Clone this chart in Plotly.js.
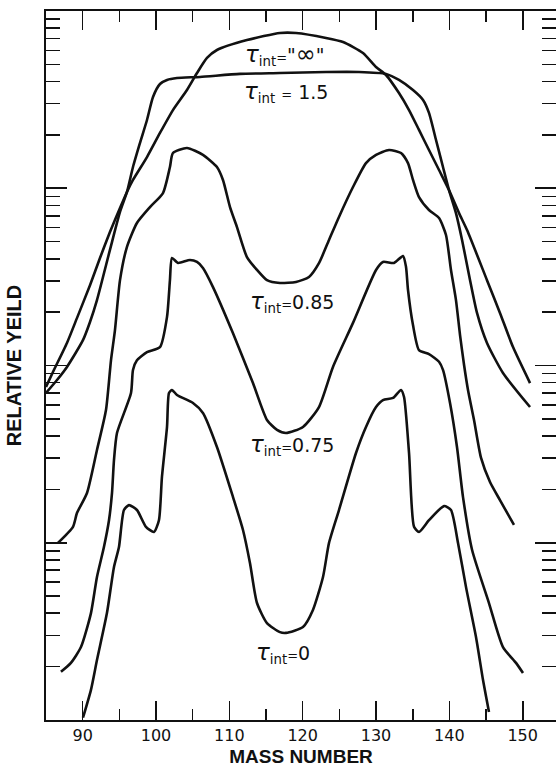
<!DOCTYPE html>
<html><head><meta charset="utf-8">
<script src="https://cdn.plot.ly/plotly-3.0.1.min.js"></script>
<style>html,body{margin:0;padding:0;background:#fff}</style>
</head><body>
<div id="chart" style="width:556px;height:767px"></div>
<script>
// tau_int = "infinity"
const massInf  = [85.0, 85.95, 87.86, 89.22, 91.0, 92.36, 93.72, 95.09, 96.04, 96.86, 98.77, 100.54, 102.31, 104.22, 105.59, 106.95, 108.31, 112.4, 116.9, 119.09, 123.18, 125.5, 128.22, 130.0, 131.36, 133.13, 134.5, 135.86, 137.22, 138.59, 139.95, 141.32, 142.41, 145.13, 146.9, 148.68, 151.0];
const yieldInf = [75.7, 91.9, 134, 185, 284, 404, 566, 774, 953, 1114, 1500, 2051, 2761, 3581, 4467, 5433, 6026, 6855, 7516, 7516, 7047, 6683, 5794, 4831, 4355, 3443, 2761, 2133, 1644, 1268, 977, 724, 581, 303, 198, 127, 79.6];
// tau_int = 1.5
const mass15  = [85.0, 86.5, 87.86, 90.04, 91.0, 91.95, 93.72, 95.09, 96.04, 96.86, 97.81, 98.77, 99.59, 100.54, 101.5, 102.86, 106.0, 111.45, 116.9, 123.18, 127.68, 131.36, 133.13, 135.04, 136.41, 137.22, 138.18, 139.13, 139.95, 140.9, 141.73, 142.82, 143.77, 145.13, 147.31, 151.0];
const yield15 = [70.0, 82.8, 98.2, 139, 176, 234, 449, 735, 953, 1318, 1799, 2427, 3273, 3873, 4083, 4188, 4246, 4416, 4467, 4529, 4529, 4416, 4083, 3581, 3148, 2661, 1871, 1318, 977, 724, 511, 303, 198, 134, 90.8, 58.3];
// tau_int = 0.85
const mass085  = [86.63, 88.68, 89.22, 90.59, 91.95, 93.18, 93.86, 94.4, 95.09, 96.04, 97.4, 99.18, 100.95, 101.9, 102.31, 104.22, 106.4, 108.31, 109.13, 110.09, 111.04, 112.4, 113.77, 115.13, 116.9, 119.09, 120.86, 122.22, 123.59, 124.95, 126.86, 128.63, 130.0, 131.77, 133.41, 134.36, 135.04, 135.86, 137.22, 138.59, 139.54, 140.22, 140.9, 141.45, 142.0, 142.54, 143.36, 144.32, 145.54, 146.9, 148.81];
const yield085 = [9.98, 12.3, 14.7, 19.1, 33.4, 56.1, 107, 158, 303, 467, 637, 783, 940, 1318, 1581, 1687, 1542, 1318, 1114, 783, 604, 409, 346, 303, 292, 296, 316, 378, 511, 689, 1016, 1387, 1542, 1644, 1581, 1387, 1114, 891, 754, 679, 545, 346, 234, 149, 101, 72.8, 49.3, 30.1, 22.0, 17.4, 12.6];
// tau_int = 0.75
const mass075  = [87.04, 88.4, 89.77, 91.13, 91.95, 92.9, 93.59, 94.0, 94.27, 94.68, 96.59, 96.86, 97.4, 98.77, 100.54, 101.5, 101.9, 102.18, 103.0, 104.63, 105.59, 106.4, 107.77, 110.5, 113.22, 115.13, 116.5, 117.72, 120.04, 122.22, 124.13, 126.86, 130.0, 130.95, 132.45, 133.68, 134.09, 134.36, 135.04, 135.86, 137.22, 138.59, 139.13, 140.09, 141.04, 141.86, 143.1, 145.4, 147.31, 149.09, 150.04];
const yield075 = [1.87, 2.10, 2.58, 4.01, 6.41, 9.46, 13.4, 19.1, 29.3, 41.6, 70.0, 94.4, 107, 119, 127, 188, 303, 404, 379, 394, 384, 355, 277, 152, 79.6, 49.3, 43.3, 41.6, 45.0, 58.3, 98.2, 174, 346, 384, 379, 415, 360, 267, 169, 122, 116, 105, 94.4, 61.4, 34.7, 18.1, 9.1, 4.57, 2.58, 2.10, 1.84];
// tau_int = 0
const mass0  = [90.04, 91.13, 91.95, 93.31, 94.27, 94.95, 95.63, 96.31, 97.4, 98.63, 99.72, 100.4, 100.81, 101.5, 101.77, 102.18, 102.86, 105.04, 106.4, 108.31, 110.5, 111.86, 112.81, 113.77, 115.13, 116.9, 117.72, 120.04, 121.4, 122.77, 123.59, 124.95, 127.27, 128.63, 130.0, 130.95, 132.32, 133.41, 133.82, 134.5, 135.18, 135.86, 137.22, 139.27, 140.22, 141.18, 142.27, 143.63, 144.59, 145.4];
const yield0 = [1.03, 1.48, 2.18, 4.01, 7.30, 9.46, 15.3, 16.3, 15.3, 12.3, 11.5, 13.4, 23.5, 45.0, 70.0, 72.8, 68.2, 61.4, 54.0, 34.7, 18.1, 11.8, 7.69, 4.57, 3.52, 3.13, 3.10, 3.35, 4.18, 6.41, 9.98, 15.3, 32.1, 45.0, 58.3, 63.8, 65.6, 72.8, 66.4, 32.1, 12.3, 11.5, 13.4, 16.1, 15.3, 9.98, 5.62, 2.94, 1.68, 1.11];

const seriesMass  = [massInf, mass15, mass085, mass075, mass0];
const seriesYield = [yieldInf, yield15, yield085, yield075, yield0];
const tauPart = '<span style="font-size:23px"><i>τ</i></span><sub>int</sub>';
const eqPart = '<span style="font-size:13px">=</span>';
const seriesLabels = [
  tauPart + eqPart + '"<span style="font-size:24px">∞</span>"',
  tauPart + ' ' + eqPart + ' 1.5',
  tauPart + eqPart + '0.85',
  tauPart + eqPart + '0.75',
  tauPart + eqPart + '0'
];
const labelMass = [117.6, 117.7, 118.5, 118.5, 117.3];
const labelLogY = [3.752, 3.543, 2.358, 1.551, 0.378];

const ink = '#111';
const traces = seriesMass.map((m, i) => ({
  x: m, y: seriesYield[i], type: 'scatter', mode: 'lines',
  line: {color: ink, width: 2.6, shape: 'spline', smoothing: 0.6},
  hoverinfo: 'skip'
}));

const annotations = seriesLabels.map((t, i) => ({
  text: t, x: labelMass[i], y: labelLogY[i], xref: 'x', yref: 'y',
  showarrow: false, xanchor: 'center', yanchor: 'middle',
  font: {family: 'DejaVu Sans', size: 19, color: ink}
}));

const layout = {
  width: 556, height: 767,
  margin: {l: 46, r: 0, t: 11, b: 47},
  showlegend: false,
  paper_bgcolor: '#fff', plot_bgcolor: '#fff',
  xaxis: {
    range: [85.0, 154.54], showgrid: false, zeroline: false,
    showline: true, linecolor: ink, linewidth: 2, mirror: 'ticks',
    ticks: 'inside', ticklen: 19, tickwidth: 1.6, tickcolor: ink,
    tick0: 0, dtick: 10,
    minor: {ticks: 'inside', ticklen: 11, tickwidth: 1.6, tickcolor: ink, tick0: 0, dtick: 5, showgrid: false},
    tickfont: {family: 'DejaVu Sans', size: 16, color: ink},
    title: {text: 'MASS NUMBER', standoff: 6, font: {family: 'Liberation Sans', size: 19, color: ink, weight: 'bold'}}
  },
  yaxis: {
    type: 'log', range: [0, 4], showgrid: false, zeroline: false,
    showline: true, linecolor: ink, linewidth: 2, mirror: 'ticks',
    ticks: 'inside', ticklen: 21, tickwidth: 1.6, tickcolor: ink,
    tick0: 0, dtick: 1, showticklabels: false,
    minor: {ticks: 'inside', ticklen: 14, tickwidth: 1.6, tickcolor: ink, dtick: 'D1', showgrid: false},
    title: {text: 'RELATIVE YEILD', standoff: 17, font: {family: 'Liberation Sans', size: 20, color: ink, weight: 'bold'}}
  },
  annotations: annotations
};

Plotly.newPlot('chart', traces, layout, {displayModeBar: false, staticPlot: true});
</script>
</body></html>
